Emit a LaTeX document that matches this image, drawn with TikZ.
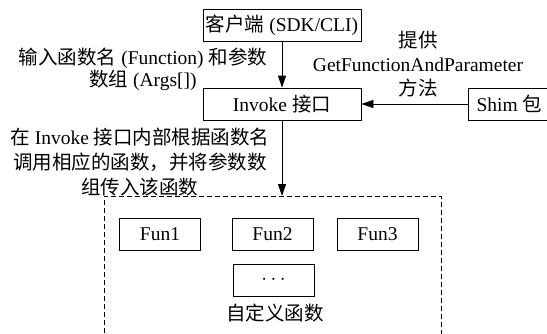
\documentclass[tikz,border=0pt]{standalone}
\usepackage{fontspec}
\setmainfont{Liberation Serif}
\newfontfamily\cjk{Noto Sans CJK SC}
\newcommand{\zh}[1]{{\cjk #1}}
\usetikzlibrary{arrows.meta}
\tikzset{
  box/.style={draw, line width=0.8pt, minimum height=32pt, inner sep=2pt},
  funbox/.style={box, minimum width=81pt},
  arr/.style={line width=0.8pt, -{Triangle[length=12pt,width=8pt]}},
  txt/.style={inner sep=0pt},
}
\begin{document}
\begin{tikzpicture}[x=1pt, y=-1pt, font=\fontsize{19.5}{24}\selectfont]
    \useasboundingbox (0,0) rectangle (547,333);
    \clip (0,0) rectangle (547,333);
    \node[box, minimum width=158pt] (client) at (282,25.5) {\zh{客户端} (SDK/CLI)};
    \node[box, minimum width=158pt] (invoke) at (282,104) {Invoke \zh{接口}};
    \node[box, minimum width=82pt, anchor=west] (shim) at (468,104) {Shim \zh{包}};
    \node[draw, line width=0.8pt, dash pattern=on 5pt off 3pt, minimum width=337pt, minimum height=170pt, anchor=north] (funcs) at (272.5,196) {};
    \draw[arr] (client) -- (invoke);
    \draw[arr] (shim) -- (invoke);
    \draw[arr] (invoke) -- (invoke.south |- funcs.north);
    \node[txt, align=center, font=\fontsize{19.5}{22}\selectfont] (argtxt) at (143,69) {\zh{输入函数名} (Function) \zh{和参数}\\ \zh{数组} (Args[])};
    \node[txt, align=center] (shimtxt) at (418,64) {\zh{提供}\\ GetFunctionAndParameter\\ \zh{方法}};
    \node[txt, align=center, font=\fontsize{19.5}{25}\selectfont] (calltxt) at (140,162) {\zh{在} Invoke \zh{接口内部根据函数名}\\ \zh{调用相应的函数，并将参数数}\\ \zh{组传入该函数}};
    \node[funbox] (fun1) at (160,234.5) {Fun1};
    \node[funbox] (fun2) at (272.5,234.5) {Fun2};
    \node[funbox] (fun3) at (377.5,234.5) {Fun3};
    \node[funbox] (more) at (273.5,280) {$\cdots$};
    \node[txt] (functxt) at (275,313) {\zh{自定义函数}};
\end{tikzpicture}
\end{document}
